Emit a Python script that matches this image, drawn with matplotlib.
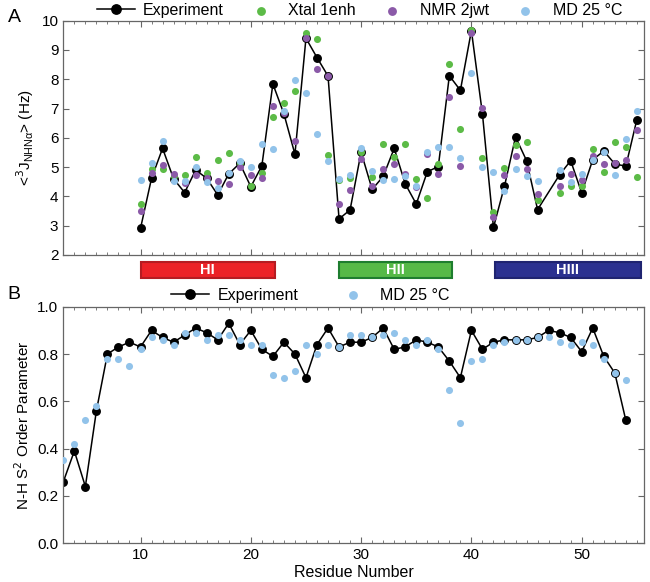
import numpy as np
import matplotlib.pyplot as plt
from matplotlib.patches import Rectangle
from matplotlib.ticker import MultipleLocator, FormatStrFormatter

plt.rcParams['font.family'] = ['Liberation Sans', 'DejaVu Sans']

# 패널 A: 3J(HN-Hα) 결합상수 (잔기 47 없음)
res_a = list(range(10, 47)) + list(range(48, 56))
exp_a = [2.91, 4.62, 5.64, 4.60, 4.13, 4.90, 4.62, 4.05, 4.77, 5.13, 4.33, 5.04,
         7.84, 6.82, 5.44, 9.40, 8.74, 8.11, 3.23, 3.54, 5.51, 4.24, 4.68, 5.64,
         4.43, 3.74, 4.84, 5.02, 8.12, 7.62, 9.66, 6.82, 2.94, 4.35, 6.03, 5.22,
         3.55, 4.74, 5.22, 4.12, 5.25, 5.55, 5.11, 5.03, 6.62]
xtal_a = [3.73, 4.95, 4.95, 4.70, 4.72, 5.34, 4.79, 5.23, 5.47, 5.13, 4.37, 4.80,
          6.72, 7.18, 7.59, 9.59, 9.39, 5.41, 4.55, 4.63, 5.53, 4.65, 5.79, 5.34,
          5.80, 4.58, 3.95, 5.11, 8.53, 6.30, 9.68, 5.31, 3.46, 4.98, 5.77, 5.87,
          3.86, 4.13, 4.36, 4.37, 5.63, 4.85, 5.87, 5.67, 4.65]
nmr_a = [3.49, 4.80, 5.06, 4.77, 4.47, 4.72, 4.62, 4.52, 4.41, 5.01, 4.73, 4.64,
         7.10, 6.84, 5.89, 9.40, 8.34, 8.10, 3.75, 4.23, 5.26, 4.36, 4.93, 5.09,
         4.77, 4.31, 5.45, 4.77, 7.40, 5.05, 9.57, 7.02, 3.29, 4.73, 5.38, 4.95,
         4.08, 4.36, 4.78, 4.56, 5.37, 5.09, 5.13, 5.25, 6.26]
md_a = [4.56, 5.13, 5.89, 4.53, 4.52, 5.01, 4.48, 4.28, 4.80, 5.21, 5.02, 5.78,
        5.61, 6.92, 7.97, 7.52, 6.13, 5.20, 4.61, 4.72, 5.64, 4.87, 4.55, 4.58,
        4.71, 4.37, 5.50, 5.68, 5.67, 5.30, 8.23, 5.02, 4.84, 4.17, 4.92, 4.68,
        4.54, 4.89, 4.50, 4.78, 5.25, 5.50, 4.72, 5.97, 6.93]

# 패널 B: N-H S2 order parameter
res_b = list(range(3, 55))
exp_b = [0.26, 0.39, 0.24, 0.56, 0.80, 0.83, 0.85, 0.83, 0.90, 0.87, 0.85, 0.88,
         0.91, 0.89, 0.86, 0.93, 0.84, 0.90, 0.82, 0.79, 0.85, 0.80, 0.70, 0.84,
         0.91, 0.83, 0.85, 0.85, 0.87, 0.91, 0.82, 0.83, 0.86, 0.85, 0.83, 0.77,
         0.70, 0.90, 0.82, 0.85, 0.86, 0.86, 0.86, 0.87, 0.90, 0.89, 0.87, 0.81,
         0.91, 0.79, 0.72, 0.52]
md_b = [0.35, 0.42, 0.52, 0.58, 0.78, 0.78, 0.75, 0.82, 0.87, 0.86, 0.84, 0.89,
        0.89, 0.86, 0.88, 0.88, 0.86, 0.84, 0.84, 0.71, 0.70, 0.73, 0.84, 0.80,
        0.84, 0.83, 0.88, 0.88, 0.87, 0.88, 0.89, 0.86, 0.84, 0.86, 0.82, 0.65,
        0.51, 0.77, 0.78, 0.84, 0.85, 0.86, 0.86, 0.87, 0.87, 0.85, 0.84, 0.85,
        0.84, 0.78, 0.72, 0.69]

# 헬릭스 구간
helix_names = ['HI', 'HII', 'HIII']
helix_start = [10.0, 28.0, 42.1]
helix_end = [22.2, 38.2, 55.4]

c_green = '#5cbb47'
c_purple = '#8b5aa8'
c_blue = '#92c3ea'
helix_fill = ['#ec2227', '#56b947', '#2b3190']
helix_edge = ['#b51c22', '#1e7d2f', '#1f2470']

fig = plt.figure(figsize=(6.5, 5.82), dpi=100)
axA = fig.add_axes([0.0974, 0.5619, 0.8934, 0.4026])
axB = fig.add_axes([0.0974, 0.0665, 0.8934, 0.4065])

ms = 5.4
s_dot = 26
leg_kw = dict(loc='lower center', frameon=False, fontsize=11.5, handlelength=2.4,
              handletextpad=0.5, borderaxespad=0, markerscale=1.25)

# 패널 A
axA.plot(res_a, exp_a, '-o', color='black', lw=1.1, ms=ms, label='Experiment', zorder=2)
axA.scatter(res_a, xtal_a, s=s_dot, color=c_green, label='Xtal 1enh', zorder=3, lw=0)
axA.scatter(res_a, nmr_a, s=s_dot, color=c_purple, label='NMR 2jwt', zorder=4, lw=0)
axA.scatter(res_a, md_a, s=s_dot, color=c_blue, label='MD 25 °C', zorder=5, lw=0)
axA.set_ylim(2, 10)
axA.yaxis.set_major_locator(MultipleLocator(1))
axA.set_ylabel(r'<$^3$J$_{\mathregular{NHN\alpha}}$> (Hz)', fontsize=11)
axA.tick_params(labelbottom=False)
axA.legend(bbox_to_anchor=(0.51, 0.985), ncol=4, columnspacing=1.1, **leg_kw)

# 패널 B
axB.plot(res_b, exp_b, '-o', color='black', lw=1.1, ms=ms, label='Experiment', zorder=2)
axB.scatter(res_b, md_b, s=s_dot, color=c_blue, label='MD 25 °C', zorder=3, lw=0)
axB.set_ylim(0, 1)
axB.yaxis.set_major_locator(MultipleLocator(0.2))
axB.yaxis.set_major_formatter(FormatStrFormatter('%.1f'))
axB.set_ylabel('N-H S$^2$ Order Parameter', fontsize=11)
axB.set_xlabel('Residue Number', fontsize=11.5, labelpad=2)
axB.legend(bbox_to_anchor=(0.425, 0.99), ncol=2, columnspacing=2.2, **leg_kw)

for ax in (axA, axB):
    ax.set_xlim(3, 55.65)
    ax.xaxis.set_major_locator(MultipleLocator(10))
    ax.xaxis.set_minor_locator(MultipleLocator(1))
    ax.tick_params(which='both', direction='in', top=True, right=True,
                   labelsize=11, color='#666666')
    ax.tick_params(which='major', length=4)
    ax.tick_params(which='minor', length=2)
    for sp in ax.spines.values():
        sp.set_color('#666666')
        sp.set_linewidth(0.9)

# 헬릭스 막대
tr = axA.get_xaxis_transform()
for name, x0, x1, fc, ec in zip(helix_names, helix_start, helix_end, helix_fill, helix_edge):
    axA.add_patch(Rectangle((x0, -0.097), x1 - x0, 0.068, transform=tr,
                            facecolor=fc, edgecolor=ec, lw=1.5, clip_on=False))
    axA.text((x0 + x1) / 2, -0.063, name, transform=tr, ha='center', va='center',
             color='white', fontsize=10.5, fontweight='bold')

fig.text(0.012, 0.962, 'A', fontsize=14)
fig.text(0.012, 0.486, 'B', fontsize=14)

fig.savefig('out.png', dpi=100)
